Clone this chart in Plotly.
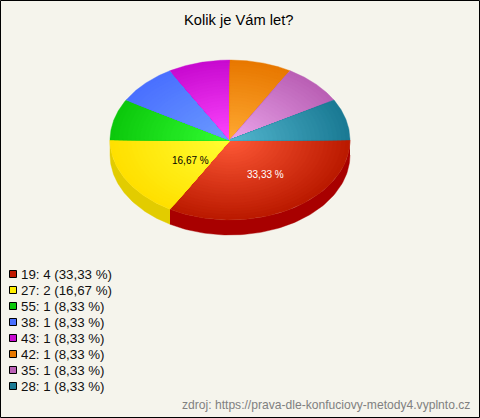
import numpy as np
import plotly.graph_objects as go

# Data
ages = ["19", "27", "55", "38", "43", "42", "35", "28"]
counts = [4, 2, 1, 1, 1, 1, 1, 1]
percent_labels = ["33,33 %", "16,67 %", "8,33 %", "8,33 %", "8,33 %", "8,33 %", "8,33 %", "8,33 %"]
title = "Kolik je Vám let?"
source = "zdroj: https://prava-dle-konfuciovy-metody4.vyplnto.cz"

# Style
inner_colors = ["#ff5a38", "#ffff33", "#33ff33", "#6c9cff", "#ff48ff", "#ffaa33", "#eba6ec", "#55b8d0"]
outer_colors = ["#bb1a00", "#ffe000", "#0cc80c", "#4a70ff", "#c80ad0", "#e87800", "#ba60b5", "#1a7a94"]
legend_colors = ["#c01800", "#ffee00", "#0cc80c", "#4a70ff", "#c80ad0", "#e87800", "#ba60b5", "#1a7a94"]
side_colors = ["#a80000", "#e2cc00"]
BG = "#f5f4ec"
W, H = 480, 418
CX, CY, RX, RY, DEPTH = 230, 140, 120, 80, 15
RINGS = 28
FONT = "Liberation Sans"


def hex2rgb(c):
    return np.array([int(c[i:i + 2], 16) for i in (1, 3, 5)], float)


def mix(a, b, t):
    v = hex2rgb(a) * (1 - t) + hex2rgb(b) * t
    return "rgb(%d,%d,%d)" % tuple(np.round(v))


fractions = np.array(counts, float) / sum(counts)
edges = np.concatenate([[0], np.cumsum(fractions)]) * 2 * np.pi

fig = go.Figure()


def add_poly(x, y, color):
    fig.add_trace(go.Scatter(x=x, y=y, mode="lines", fill="toself", fillcolor=color,
                             line=dict(width=0.4, color=color), hoverinfo="skip", showlegend=False))


# Side walls (visible half only)
for i, col in enumerate(side_colors):
    a0, a1 = edges[i], min(edges[i + 1], np.pi)
    t = np.linspace(a0, a1, 80)
    ax = CX + RX * np.cos(t)
    ay = CY + RY * np.sin(t)
    add_poly(np.concatenate([ax, ax[::-1]]), np.concatenate([ay, ay[::-1] + DEPTH]), col)

# Top face: nested wedges give the radial gradient
for i in range(len(counts)):
    t = np.linspace(edges[i], edges[i + 1], 60)
    for k in range(RINGS, 0, -1):
        s = k / RINGS
        x = np.concatenate([[CX], CX + s * RX * np.cos(t), [CX]])
        y = np.concatenate([[CY], CY + s * RY * np.sin(t), [CY]])
        add_poly(x, y, mix(inner_colors[i], outer_colors[i], s))

# Legend
LEG_Y0, LEG_DY = 274, 16
leg_y = [LEG_Y0 + LEG_DY * i for i in range(len(ages))]
fig.add_trace(go.Scatter(x=[13] * len(ages), y=leg_y, mode="markers", hoverinfo="skip", showlegend=False,
                         marker=dict(symbol="square", size=7, color=legend_colors,
                                     line=dict(color="black", width=1))))

ann = []
for a, c, p, y in zip(ages, counts, percent_labels, leg_y):
    ann.append(dict(x=18.5, y=y, text=f"{a}: {c} ({p})", showarrow=False, xanchor="left", yanchor="middle",
                    font=dict(family=FONT, size=13.3, color="#111111")))
ann.append(dict(x=238, y=20, text=title, showarrow=False, xanchor="center", yanchor="middle",
                font=dict(family=FONT, size=14.7, color="black")))
ann.append(dict(x=265.5, y=174, text=percent_labels[0], showarrow=False, font=dict(family=FONT, size=10, color="white")))
ann.append(dict(x=190, y=160, text=percent_labels[1], showarrow=False, font=dict(family=FONT, size=10, color="black")))
ann.append(dict(x=471.5, y=405, text=source, showarrow=False, xanchor="right", yanchor="middle",
                font=dict(family=FONT, size=12.1, color="#808080")))

fig.update_layout(
    width=W, height=H, margin=dict(l=0, r=0, t=0, b=0), paper_bgcolor=BG, plot_bgcolor=BG,
    xaxis=dict(range=[0, W], visible=False, fixedrange=True),
    yaxis=dict(range=[H, 0], visible=False, fixedrange=True),
    annotations=ann, showlegend=False,
    shapes=[dict(type="rect", x0=0.5, x1=W - 0.5, y0=0.5, y1=H - 0.5, line=dict(color="black", width=1))],
)
fig.write_html("out.html", config=dict(displayModeBar=False, responsive=False),
               post_script="document.body.style.margin='0';document.body.style.overflow='hidden';"
                           "document.documentElement.style.overflow='hidden';")
